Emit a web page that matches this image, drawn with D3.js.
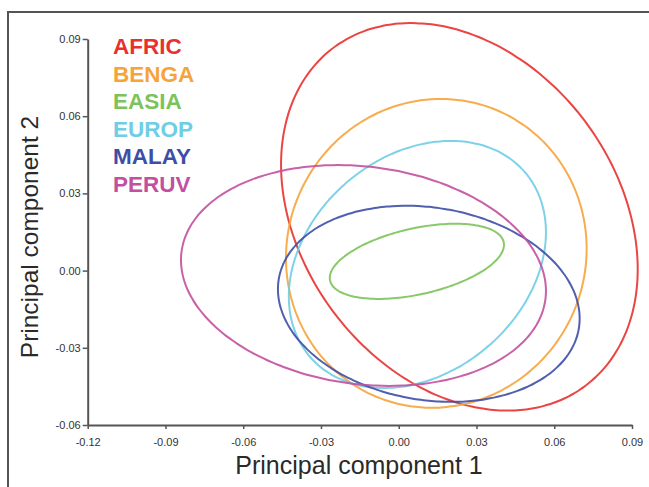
<!DOCTYPE html>
<html>
<head>
<meta charset="utf-8">
<script src="https://cdn.jsdelivr.net/npm/d3@7"></script>
<style>
  html, body { margin: 0; padding: 0; background: #fff; }
  svg { display: block; font-family: "Liberation Sans", Arial, sans-serif; }
</style>
</head>
<body>
<svg id="chart" width="649" height="487"></svg>
<script>
// Population groups and their 2D confidence ellipses on the first two PCs
const groups = ["AFRIC", "BENGA", "EASIA", "EUROP", "MALAY", "PERUV"];
const colors = ["#e8312f", "#f6a33b", "#7cc35a", "#6fcde6", "#3e4ea6", "#c2509f"];
const centerX = [0.0234, 0.0145, 0.0070, 0.0072, 0.0116, -0.0136];
const centerY = [0.0209, 0.0067, 0.0036, 0.0024, -0.0129, -0.0019];
const radiusX = [0.0688, 0.0580, 0.0336, 0.0496, 0.0582, 0.0704];
const radiusY = [0.0753, 0.0600, 0.0146, 0.0480, 0.0381, 0.0429];
const correlation = [-0.27, 0.03, 0.44, 0.26, -0.15, -0.14];

const xTicks = [-0.12, -0.09, -0.06, -0.03, 0.00, 0.03, 0.06, 0.09];
const yTicks = [-0.06, -0.03, 0.00, 0.03, 0.06, 0.09];

const svg = d3.select("#chart");

// outer frame
svg.append("path")
  .attr("d", "M8,487 L8,12 L649,12")
  .attr("fill", "none")
  .attr("stroke", "#555")
  .attr("stroke-width", 2);

const x = d3.scaleLinear().domain([-0.12, 0.09]).range([87.7, 632]);
const y = d3.scaleLinear().domain([-0.06, 0.09]).range([425, 39]);
const fmt = d => d.toFixed(2);

// ellipse outline: x = cx + rx cos t, y = cy + ry cos(t - acos(rho))
function ellipsePoints(i) {
  const phi = Math.acos(correlation[i]);
  const pts = [];
  const n = 180;
  for (let k = 0; k < n; k++) {
    const t = (k / n) * 2 * Math.PI;
    pts.push([centerX[i] + radiusX[i] * Math.cos(t),
              centerY[i] + radiusY[i] * Math.cos(t - phi)]);
  }
  return pts;
}

const line = d3.line()
  .x(d => x(d[0]))
  .y(d => y(d[1]))
  .curve(d3.curveCardinalClosed);

svg.append("g").selectAll("path")
  .data(groups)
  .join("path")
  .attr("d", (g, i) => line(ellipsePoints(i)))
  .attr("fill", "none")
  .attr("stroke", (g, i) => colors[i])
  .attr("stroke-width", 2)
  .attr("opacity", 0.9);

// axes
const xAxis = svg.append("g")
  .attr("transform", `translate(0,${y(-0.06)})`)
  .call(d3.axisBottom(x).tickValues(xTicks).tickFormat(fmt).tickSize(4).tickSizeOuter(0).tickPadding(9));
const yAxis = svg.append("g")
  .attr("transform", `translate(${x(-0.12)},0)`)
  .call(d3.axisLeft(y).tickValues(yTicks).tickFormat(fmt).tickSize(5).tickSizeOuter(0).tickPadding(2));

[xAxis, yAxis].forEach(a => {
  a.attr("font-size", null);
  a.select(".domain").attr("stroke", "#555").attr("stroke-width", 2);
  a.selectAll(".tick line").attr("stroke", "#555").attr("stroke-width", 1.5);
  a.selectAll(".tick text")
    .attr("fill", "#333")
    .attr("font-size", 11)
    .attr("font-family", "'Liberation Sans', Arial, sans-serif");
});

// axis titles
svg.append("text")
  .attr("x", 359).attr("y", 474)
  .attr("text-anchor", "middle")
  .attr("fill", "#2a2a2a")
  .style("font-size", "25px")
  .text("Principal component 1");

svg.append("text")
  .attr("transform", "translate(38,237) rotate(-90)")
  .attr("text-anchor", "middle")
  .attr("fill", "#2a2a2a")
  .style("font-size", "24.5px")
  .text("Principal component 2");

// legend
svg.append("g").selectAll("text")
  .data(groups)
  .join("text")
  .attr("x", 113)
  .attr("y", (g, i) => 54 + i * 27.5)
  .attr("fill", (g, i) => colors[i])
  .style("font-size", "22.5px")
  .style("font-weight", "bold")
  .text(g => g);
</script>
</body>
</html>
